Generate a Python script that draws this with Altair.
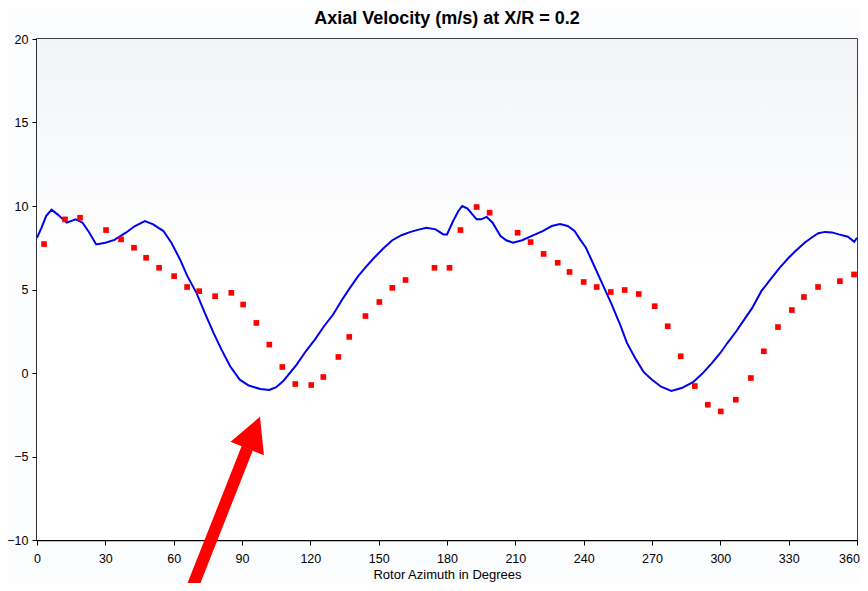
import altair as alt
import pandas as pd

# Measured (blue line) axial velocity vs rotor azimuth
line_az = [0, 2, 4, 6.4, 9, 13, 17, 20, 23, 26, 30, 34, 39, 43, 47.4, 51, 55.5, 59, 62.8, 66,
           70, 74, 77.5, 81, 84.8, 89, 93, 98, 102, 105, 108, 111, 114, 118, 122, 126, 130, 134,
           137.4, 141, 144.7, 148, 152, 156, 160, 164, 168, 171, 175, 178.4, 180, 182.7, 185,
           186.7, 189, 193, 195, 197.4, 200, 203.5, 206, 209, 213, 218, 222, 226, 229.6, 233,
           236, 238.4, 241, 244, 248, 252, 256, 259, 263, 266.4, 270, 274, 278.5, 283, 288, 292,
           296, 300, 303, 307, 311, 314, 318, 322, 326, 330, 333, 337, 340, 343, 346, 349, 352,
           356, 358.8, 360]
line_vel = [8.1, 8.7, 9.4, 9.78, 9.5, 9.0, 9.2, 9.0, 8.4, 7.7, 7.8, 7.97, 8.4, 8.8, 9.1, 8.9, 8.5,
            7.8, 6.8, 5.8, 4.8, 3.5, 2.4, 1.4, 0.4, -0.4, -0.75, -0.96, -1.02, -0.85, -0.5, 0.0,
            0.5, 1.3, 2.0, 2.8, 3.5, 4.4, 5.1, 5.8, 6.4, 6.9, 7.45, 7.95, 8.25, 8.45, 8.6, 8.7,
            8.6, 8.3, 8.3, 9.1, 9.7, 10.0, 9.85, 9.2, 9.2, 9.35, 9.0, 8.2, 7.95, 7.8, 7.95, 8.26,
            8.5, 8.8, 8.92, 8.8, 8.5, 8.0, 7.5, 6.6, 5.4, 4.2, 2.9, 1.8, 0.8, 0.05, -0.4, -0.82,
            -1.08, -0.9, -0.55, -0.05, 0.55, 1.2, 1.78, 2.5, 3.3, 3.9, 4.9, 5.6, 6.3, 6.9, 7.3,
            7.8, 8.1, 8.37, 8.45, 8.42, 8.3, 8.16, 7.86, 8.1]

# Predicted (red squares)
pt_az = [3.1, 12.3, 18.9, 30.3, 36.9, 42.6, 47.9, 53.6, 60.2, 65.9, 71.2, 78.2, 85.3, 90.5,
         96.3, 102, 107.7, 113.4, 120.4, 125.7, 132.3, 137.1, 144.2, 150.3, 156, 161.8, 174.5,
         181.1, 185.9, 193, 198.7, 211, 216.7, 222.4, 228.6, 233.8, 240, 245.7, 251.9, 258,
         264.2, 271.2, 276.9, 282.6, 288.8, 294.5, 300.2, 306.8, 313.4, 319.1, 325.3, 331.4,
         336.7, 342.9, 352.5, 358.7]
pt_vel = [7.72, 9.2, 9.3, 8.56, 8.0, 7.5, 6.9, 6.3, 5.8, 5.15, 4.9, 4.6, 4.8, 4.1, 3.0, 1.7,
          0.36, -0.66, -0.72, -0.24, 0.96, 2.16, 3.41, 4.25, 5.1, 5.57, 6.3, 6.3, 8.56, 9.94,
          9.6, 8.4, 7.84, 7.13, 6.6, 6.05, 5.45, 5.15, 4.85, 4.97, 4.73, 4.0, 2.8, 1.0, -0.78,
          -1.9, -2.3, -1.6, -0.3, 1.3, 2.75, 3.77, 4.55, 5.15, 5.5, 5.9]

# Annotation arrow (data coordinates)
arrow_tail = [64.8, -14.0]
arrow_base = [92.3, -4.51]
arrow_head = [94.95, -3.62]

line_df = pd.DataFrame({"az": line_az, "vel": line_vel})
pt_df = pd.DataFrame({"az": pt_az, "vel": pt_vel})
shaft_df = pd.DataFrame({"x": [arrow_tail[0]], "y": [arrow_tail[1]],
                         "x2": [arrow_base[0]], "y2": [arrow_base[1]]})
head_df = pd.DataFrame({"x": [arrow_head[0]], "y": [arrow_head[1]]})

xs = alt.Scale(domain=[0, 360], nice=False, zero=False)
ys = alt.Scale(domain=[-10, 20], nice=False, zero=False)

x_axis = alt.Axis(
    values=list(range(0, 361, 30)), title="Rotor Azimuth in Degrees", grid=False,
    labelOffset={"condition": {"test": "datum.value == 360", "value": -8}, "value": 0},
)
y_axis = alt.Axis(values=list(range(-10, 21, 5)), title=None, grid=False)

bg = alt.Chart(pd.DataFrame({"a": [0]})).mark_rect(
    color=alt.LinearGradient(gradient="linear", x1=0, y1=0, x2=0, y2=1,
                             stops=[alt.GradientStop(color="#f2f4f7", offset=0),
                                    alt.GradientStop(color="#ffffff", offset=0.45),
                                    alt.GradientStop(color="#ffffff", offset=1)])
).encode(x=alt.value(0), x2=alt.value(820), y=alt.value(0), y2=alt.value(501))

line = alt.Chart(line_df).mark_line(color="#0000ee", strokeWidth=2).encode(
    x=alt.X("az:Q", scale=xs, axis=x_axis),
    y=alt.Y("vel:Q", scale=ys, axis=y_axis),
)

points = alt.Chart(pt_df).mark_square(color="#ff0000", size=32, opacity=1, filled=True).encode(
    x=alt.X("az:Q", scale=xs),
    y=alt.Y("vel:Q", scale=ys),
)

shaft = alt.Chart(shaft_df).mark_rule(color="#ff0000", strokeWidth=12, strokeCap="butt", clip=False).encode(
    x=alt.X("x:Q", scale=xs), y=alt.Y("y:Q", scale=ys),
    x2="x2:Q", y2="y2:Q",
)

head = alt.Chart(head_df).mark_point(
    shape="M0,-1L1,0.9L-1,0.9Z", size=1296, angle=21.9, filled=True,
    color="#ff0000", opacity=1, clip=False,
).encode(
    x=alt.X("x:Q", scale=xs), y=alt.Y("y:Q", scale=ys),
)

chart = alt.layer(bg, line, points, shaft, head).properties(
    width=820, height=501,
    title=alt.TitleParams("Axial Velocity (m/s) at X/R = 0.2", fontSize=18, font="Liberation Sans",
                          fontWeight="bold", anchor="middle", offset=5, color="#000000"),
    autosize=alt.AutoSizeParams(type="none"),
    padding={"left": 29, "top": 31, "right": 3, "bottom": 43},
    background="#fbfcfd",
).configure_view(
    stroke="#000000", strokeWidth=1.5, fill="#ffffff",
).configure_axis(
    domainColor="#000000", domainWidth=1.5, tickColor="#000000", tickSize=5, tickWidth=1,
    labelColor="#000000", labelFont="Liberation Sans", labelFontSize=12.5,
    titleFont="Liberation Sans", titleFontSize=13, titleFontWeight="normal", titleColor="#000000",
).configure_axisX(labelPadding=7, titlePadding=4, labelFlush=False).configure_axisY(labelPadding=4)

chart.save("out.html", embed_options={"renderer": "svg", "actions": False})
